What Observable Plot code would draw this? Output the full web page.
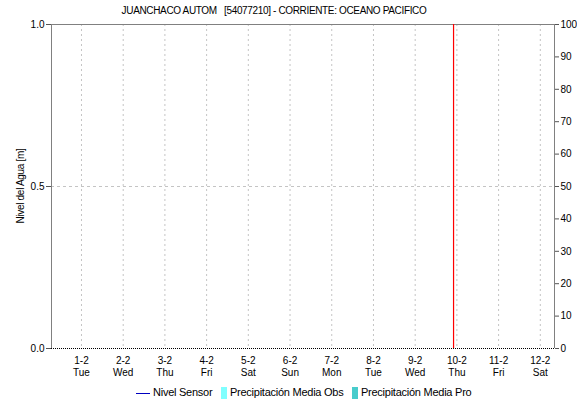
<!DOCTYPE html>
<html>
<head>
<meta charset="utf-8">
<script src="https://cdn.jsdelivr.net/npm/d3@7"></script>
<script src="https://cdn.jsdelivr.net/npm/@observablehq/plot@0.6"></script>
<style>
  html, body { margin: 0; padding: 0; background: #fff; }
  #wrap { position: relative; width: 577px; height: 403px; font-family: "Liberation Sans", Arial, sans-serif; color: #000; overflow: hidden; }
  #title { position: absolute; top: 5px; left: 0; width: 548px; text-align: center; font-size: 10px; letter-spacing: -0.35px; white-space: pre; }
  #ylabel { position: absolute; left: 20px; top: 186px; transform: translate(-50%, -50%) rotate(-90deg); font-size: 10px; letter-spacing: -0.3px; white-space: nowrap; }
  #chart { position: absolute; left: 0; top: 0; }
  .leg { position: absolute; top: 386px; font-size: 11px; letter-spacing: -0.25px; white-space: nowrap; line-height: 13px; }
  .sw { position: absolute; top: 387px; width: 6px; height: 12px; }
  .ln { position: absolute; top: 393px; height: 1px; width: 14px; }
</style>
</head>
<body>
<div id="wrap">
  <div id="chart"></div>
  <div id="title"></div>
  <div id="ylabel"></div>
  <div class="ln" id="lg0" style="left:136px;background:#0000c0"></div>
  <div class="leg" id="lt0" style="left:153px"></div>
  <div class="sw" id="lg1" style="left:221px;background:#80ffff"></div>
  <div class="leg" id="lt1" style="left:230px"></div>
  <div class="sw" id="lg2" style="left:352px;background:#48cccc"></div>
  <div class="leg" id="lt2" style="left:361px"></div>
</div>
<script>
const title = "JUANCHACO AUTOM   [54077210] - CORRIENTE: OCEANO PACIFICO";
const yLabel = "Nivel del Agua [m]";
const legendNames = ["Nivel Sensor", "Precipitación Media Obs", "Precipitación Media Pro"];
const days = ["2022-02-01","2022-02-02","2022-02-03","2022-02-04","2022-02-05","2022-02-06","2022-02-07","2022-02-08","2022-02-09","2022-02-10","2022-02-11","2022-02-12"];
const dayLabels = ["1-2","2-2","3-2","4-2","5-2","6-2","7-2","8-2","9-2","10-2","11-2","12-2"];
const weekdays = ["Tue","Wed","Thu","Fri","Sat","Sun","Mon","Tue","Wed","Thu","Fri","Sat"];
const xDomain = ["2022-01-31T06:45:00Z", "2022-02-12T08:10:00Z"];
const nowMarker = ["2022-02-09T22:05:00Z"];
const leftTicks = [0, 0.5, 1.0];
const rightTicks = [0, 10, 20, 30, 40, 50, 60, 70, 80, 90, 100];
const nivelSensor = []; // no data shown
const yDomain = [0, 1];

document.getElementById("title").textContent = title;
document.getElementById("ylabel").textContent = yLabel;
legendNames.forEach((n, i) => document.getElementById("lt" + i).textContent = n);

const dayDates = days.map(d => new Date(d + "T00:00:00Z"));
const labelMap = new Map(dayDates.map((d, i) => [d.getTime(), dayLabels[i] + "\n" + weekdays[i]]));
const xd = xDomain.map(d => new Date(d));

const chart = Plot.plot({
  width: 577,
  height: 382,
  marginTop: 24,
  marginBottom: 34,
  marginLeft: 51,
  marginRight: 23,
  style: { fontFamily: "Liberation Sans, Arial, sans-serif", fontSize: "10px", color: "#000", background: "transparent" },
  x: { type: "utc", domain: xd },
  y: { domain: yDomain },
  marks: [
    Plot.ruleX(dayDates, { stroke: "#c4c4c4", strokeDasharray: "2,3" }),
    Plot.ruleY([0.5], { stroke: "#c4c4c4", strokeDasharray: "3,3" }),
    Plot.ruleY([yDomain[1]], { stroke: "#808080" }),
    Plot.ruleX([xd[0]], { stroke: "#808080" }),
    Plot.ruleX([xd[1]], { stroke: "#808080" }),
    Plot.ruleX(nowMarker.map(d => new Date(d)), { stroke: "#ff0000", strokeWidth: 1.2 }),
    Plot.ruleY([yDomain[0]], { stroke: "#000", strokeDasharray: "1,1" }),
    Plot.line(nivelSensor, { x: "t", y: "v", stroke: "#0000c0" }),
    Plot.axisX(dayDates, { tickSize: 0, tickPadding: 7, tickFormat: d => labelMap.get(d.getTime()), label: null, lineHeight: 1.2 }),
    Plot.axisY(leftTicks, { anchor: "left", tickSize: 5, tickPadding: 2, stroke: "#555", tickFormat: d => d.toFixed(1), label: null }),
    Plot.axisY(rightTicks.map(v => v / 100), { anchor: "right", tickSize: 4, tickPadding: 2, stroke: "#555", tickFormat: d => String(Math.round(d * 100)), label: null })
  ]
});
document.getElementById("chart").appendChild(chart);
</script>
</body>
</html>
